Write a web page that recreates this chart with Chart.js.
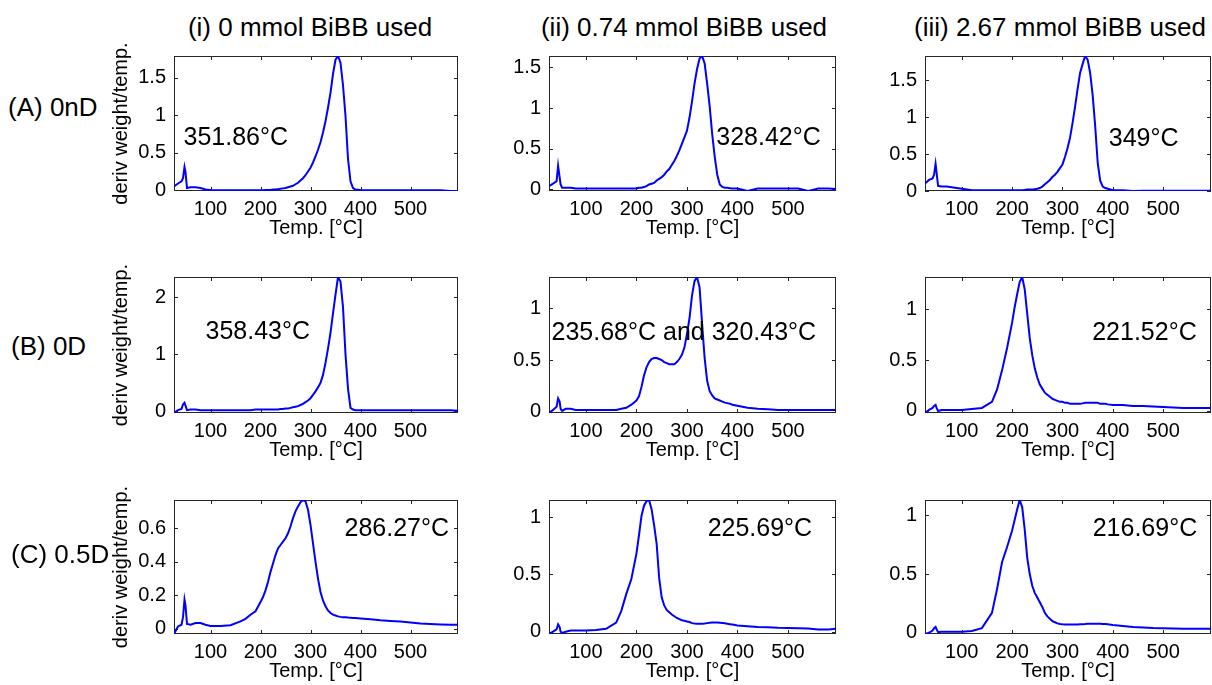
<!DOCTYPE html>
<html>
<head>
<meta charset="utf-8">
<title>DTG curves</title>
<script src="https://cdn.jsdelivr.net/npm/chart.js@4.4.1/dist/chart.umd.min.js"></script>
<style>
  body { margin: 0; background: #fff; }
  #fig { position: relative; width: 1212px; height: 685px; overflow: hidden;
         font-family: "Liberation Sans", Arial, sans-serif; color: #000; }
  #fig canvas { position: absolute; }
  .colTitle { position: absolute; font-size: 26px; white-space: nowrap; transform: translate(-50%, -50%); }
  .rowLabel { position: absolute; font-size: 26px; white-space: nowrap; transform: translateY(-50%); }
</style>
</head>
<body>
<div id="fig"></div>
<script>
// temperature grid (°C) shared by all runs
const temps = [27, 35, 42, 45, 48, 50, 53, 60, 70, 80, 90, 100, 120, 140, 160, 170, 180, 190,
  200, 205, 210, 215, 220, 225, 230, 235, 240, 245,
  250, 255, 260, 265, 270, 275, 280, 285, 290, 295,
  300, 305, 310, 315, 320, 325, 330, 335, 340, 345,
  350, 355, 360, 365, 370, 375, 380, 385, 390,
  400, 420, 440, 460, 480, 500, 520, 540, 560, 580, 595];

// deriv weight/temp. for each sample, row (A) 0nD
const curveA1 = [0.05, 0.09, 0.12, 0.16, 0.31, 0.24, 0.03, 0.04, 0.04, 0.03, 0.01, 0.005, 0, 0, 0, 0, 0, 0,
  0, 0, 0.005, 0.005, 0.005, 0.01, 0.01, 0.015, 0.02, 0.025,
  0.03, 0.04, 0.05, 0.06, 0.08, 0.1, 0.13, 0.16, 0.2, 0.25,
  0.3, 0.37, 0.45, 0.54, 0.64, 0.77, 0.92, 1.1, 1.3, 1.55,
  1.74, 1.79, 1.7, 1.4, 0.99, 0.42, 0.12, 0.03, 0.01,
  0.005, 0, 0, 0, 0, 0, 0, 0, 0, -0.01, -0.01];
const curveA2 = [0.04, 0.07, 0.1, 0.29, 0.15, 0.06, 0.02, 0.02, 0.02, 0.01, 0.01, 0.01, 0.01, 0.01, 0.01, 0.01, 0.01, 0.01,
  0.01, 0.02, 0.02, 0.03, 0.04, 0.06, 0.07, 0.08, 0.11, 0.13,
  0.15, 0.18, 0.22, 0.25, 0.3, 0.35, 0.41, 0.48, 0.56, 0.64,
  0.72, 0.88, 1.08, 1.3, 1.48, 1.61, 1.64, 1.55, 1.3, 1.02,
  0.68, 0.4, 0.18, 0.06, 0.03, 0.02, 0.02, 0.015, 0.01,
  0.01, -0.02, 0.01, 0.01, 0.01, 0.01, 0.01, -0.02, 0.01, 0.01, 0.005];
const curveA3 = [0.1, 0.15, 0.17, 0.22, 0.37, 0.25, 0.07, 0.06, 0.06, 0.05, 0.04, 0.03, 0.01, 0.01, 0.01, 0.01, 0.01, 0.01,
  0.01, 0.01, 0.01, 0.01, 0.01, 0.015, 0.02, 0.02, 0.02, 0.025,
  0.03, 0.04, 0.06, 0.09, 0.12, 0.15, 0.19, 0.22, 0.26, 0.31,
  0.36, 0.46, 0.58, 0.72, 0.92, 1.14, 1.38, 1.6, 1.72, 1.83,
  1.78, 1.6, 1.3, 0.88, 0.38, 0.14, 0.06, 0.04, 0.03,
  0.01, 0.01, 0, 0.005, 0.005, 0.005, 0.005, 0.005, 0.005, 0.005, 0.005];

// row (B) 0D
const curveB1 = [-0.03, 0.02, 0.04, 0.12, 0.15, 0.1, 0.02, 0.03, 0.03, 0.02, 0.02, 0.02, 0.02, 0.02, 0.02, 0.02, 0.02, 0.03,
  0.03, 0.03, 0.03, 0.03, 0.03, 0.03, 0.03, 0.03, 0.04, 0.04,
  0.05, 0.05, 0.06, 0.07, 0.08, 0.09, 0.11, 0.13, 0.16, 0.19,
  0.23, 0.29, 0.35, 0.42, 0.5, 0.64, 0.85, 1.1, 1.38, 1.72,
  2.05, 2.36, 2.28, 1.83, 1.0, 0.4, 0.06, 0.03, 0.02,
  0.02, 0.02, 0.02, 0.02, 0.02, 0.02, 0.02, 0.02, 0.02, 0.02, 0.01];
const curveB2 = [-0.01, 0.02, 0.05, 0.13, 0.1, 0.03, 0.01, 0.03, 0.03, 0.02, 0.02, 0.02, 0.02, 0.02, 0.02, 0.03, 0.04, 0.07,
  0.11, 0.15, 0.24, 0.35, 0.43, 0.48, 0.51, 0.52, 0.52, 0.51,
  0.5, 0.48, 0.47, 0.46, 0.46, 0.46, 0.48, 0.51, 0.55, 0.62,
  0.75, 0.9, 1.12, 1.26, 1.3, 1.2, 0.85, 0.52, 0.3, 0.2,
  0.16, 0.13, 0.12, 0.11, 0.1, 0.09, 0.085, 0.08, 0.07,
  0.06, 0.04, 0.03, 0.025, 0.02, 0.02, 0.02, 0.02, 0.02, 0.02, 0.02];
const curveB3 = [-0.02, 0.01, 0.03, 0.05, 0.06, 0.03, 0, 0.01, 0.01, 0.01, 0.01, 0.01, 0.02, 0.03, 0.09, 0.21, 0.4, 0.62,
  0.87, 1.02, 1.15, 1.27, 1.32, 1.2, 0.96, 0.72, 0.55, 0.42,
  0.33, 0.26, 0.22, 0.18, 0.16, 0.14, 0.12, 0.11, 0.1, 0.09,
  0.09, 0.08, 0.08, 0.07, 0.07, 0.07, 0.07, 0.07, 0.075, 0.08,
  0.08, 0.08, 0.08, 0.08, 0.08, 0.07, 0.07, 0.07, 0.065,
  0.06, 0.06, 0.05, 0.05, 0.045, 0.04, 0.035, 0.03, 0.03, 0.03, 0.03];

// row (C) 0.5D
const curveC1 = [-0.03, 0.015, 0.025, 0.07, 0.175, 0.14, 0.03, 0.025, 0.035, 0.035, 0.025, 0.018, 0.018, 0.022, 0.045, 0.06, 0.085, 0.105,
  0.16, 0.19, 0.23, 0.28, 0.34, 0.39, 0.44, 0.48, 0.5, 0.52,
  0.54, 0.57, 0.61, 0.66, 0.7, 0.73, 0.755, 0.768, 0.76, 0.71,
  0.62, 0.51, 0.4, 0.3, 0.22, 0.17, 0.135, 0.11, 0.095, 0.085,
  0.08, 0.075, 0.072, 0.07, 0.07, 0.068, 0.067, 0.066, 0.065,
  0.063, 0.058, 0.052, 0.048, 0.044, 0.038, 0.033, 0.03, 0.027, 0.025, 0.025];
const curveC2 = [-0.02, 0, 0.02, 0.065, 0.04, 0, -0.01, 0, 0.01, 0.01, 0.01, 0.01, 0.015, 0.025, 0.08, 0.18, 0.33, 0.46,
  0.68, 0.84, 1.01, 1.1, 1.14, 1.15, 1.07, 0.93, 0.77, 0.47,
  0.3, 0.23, 0.19, 0.17, 0.15, 0.135, 0.12, 0.11, 0.1, 0.095,
  0.09, 0.085, 0.075, 0.072, 0.07, 0.07, 0.07, 0.072, 0.075, 0.078,
  0.08, 0.08, 0.08, 0.078, 0.076, 0.073, 0.07, 0.066, 0.062,
  0.055, 0.048, 0.042, 0.04, 0.035, 0.032, 0.03, 0.028, 0.02, 0.02, 0.025];
const curveC3 = [-0.01, 0, 0.02, 0.04, 0.05, 0.03, 0.005, 0.01, 0.01, 0.01, 0.01, 0.01, 0.015, 0.04, 0.17, 0.37, 0.6, 0.73,
  0.87, 0.96, 1.05, 1.13, 1.07, 0.88, 0.64, 0.5, 0.4, 0.34,
  0.3, 0.26, 0.22, 0.17, 0.14, 0.12, 0.1, 0.09, 0.08, 0.075,
  0.072, 0.07, 0.07, 0.07, 0.07, 0.07, 0.07, 0.072, 0.074, 0.075,
  0.077, 0.078, 0.078, 0.078, 0.078, 0.077, 0.076, 0.075, 0.072,
  0.066, 0.058, 0.05, 0.045, 0.04, 0.038, 0.036, 0.035, 0.034, 0.034, 0.034];

const curves = [[curveA1, curveA2, curveA3], [curveB1, curveB2, curveB3], [curveC1, curveC2, curveC3]];

const columnTitles = ["(i) 0 mmol BiBB used", "(ii) 0.74 mmol BiBB used", "(iii) 2.67 mmol BiBB used"];
const rowLabels = ["(A) 0nD", "(B) 0D", "(C) 0.5D"];
const peakLabels = [
  ["351.86°C", "328.42°C", "349°C"],
  ["358.43°C", "235.68°C and 320.43°C", "221.52°C"],
  ["286.27°C", "225.69°C", "216.69°C"]
];

const xTicks = [100, 200, 300, 400, 500];
const yTicks = [
  [[0, 0.5, 1, 1.5], [0, 0.5, 1, 1.5], [0, 0.5, 1, 1.5]],
  [[0, 1, 2], [0, 0.5, 1], [0, 0.5, 1]],
  [[0, 0.2, 0.4, 0.6], [0, 0.5, 1], [0, 0.5, 1]]
];

// page layout (px)
const colLeft = [174, 549, 925], colWidth = [284, 287, 286];
const rowTop = [46, 267, 490], rowHeight = [145, 146, 144];
const padL = 70, padT = 10, padR = 10, padB = 52;
const titleX = [310, 684, 1060], titleY = 27;
const rowLabelX = [8, 11, 11], rowLabelY = [107, 346, 554];
// anchor of each peak label, in the panel's own axis units
const labelAt = [
  [[46, 0.69], [358, 0.63], [392, 0.71]],
  [[90, 1.39], [32, 0.76], [359, 0.77]],
  [[368, 0.594], [341, 0.9], [360, 0.885]]
];

const FONT = '"Liberation Sans", Arial, sans-serif';
Chart.defaults.font.family = FONT;
Chart.defaults.color = '#000';

// MATLAB-style frame: full box, inward ticks on all four sides, peak text
const boxPlugin = {
  id: 'matlabBox',
  beforeDatasetsDraw(chart) {
    const { ctx, chartArea: a, scales: { x, y } } = chart;
    ctx.save();
    ctx.strokeStyle = '#262626';
    ctx.lineWidth = 1;
    ctx.strokeRect(a.left + 0.5, a.top + 0.5, a.right - a.left - 1, a.bottom - a.top - 1);
    ctx.beginPath();
    x.ticks.forEach(t => {
      const px = Math.round(x.getPixelForValue(t.value)) + 0.5;
      ctx.moveTo(px, a.bottom); ctx.lineTo(px, a.bottom - 4);
      ctx.moveTo(px, a.top); ctx.lineTo(px, a.top + 4);
    });
    y.ticks.forEach(t => {
      const py = Math.round(y.getPixelForValue(t.value)) + 0.5;
      ctx.moveTo(a.left, py); ctx.lineTo(a.left + 4, py);
      ctx.moveTo(a.right, py); ctx.lineTo(a.right - 4, py);
    });
    ctx.stroke();
    ctx.restore();
  },
  afterDatasetsDraw(chart, args, opts) {
    const { ctx, scales: { x, y } } = chart;
    ctx.save();
    ctx.fillStyle = '#000';
    ctx.font = '25px ' + FONT;
    ctx.textBaseline = 'middle';
    ctx.textAlign = 'left';
    ctx.fillText(opts.text, x.getPixelForValue(opts.at[0]), y.getPixelForValue(opts.at[1]));
    ctx.restore();
  }
};

const fig = document.getElementById('fig');

columnTitles.forEach((t, c) => {
  const d = document.createElement('div');
  d.className = 'colTitle';
  d.textContent = t;
  d.style.left = titleX[c] + 'px';
  d.style.top = titleY + 'px';
  fig.appendChild(d);
});

for (let r = 0; r < 3; r++) {
  for (let c = 0; c < 3; c++) {
    const vals = curves[r][c];
    const cv = document.createElement('canvas');
    const w = colWidth[c] + padL + padR;
    const h = rowHeight[r] + padT + padB;
    cv.width = w; cv.height = h;
    cv.style.left = (colLeft[c] - padL) + 'px';
    cv.style.top = (rowTop[r] - padT) + 'px';
    cv.style.width = w + 'px'; cv.style.height = h + 'px';
    fig.appendChild(cv);

    new Chart(cv, {
      type: 'line',
      data: {
        datasets: [{
          data: temps.map((t, k) => ({ x: t, y: vals[k] })),
          borderColor: '#0000ff',
          borderWidth: 2,
          pointRadius: 0,
          tension: 0,
          fill: false
        }]
      },
      options: {
        responsive: false,
        animation: false,
        devicePixelRatio: 1,
        events: [],
        layout: { padding: { left: 0, top: padT, right: padR, bottom: 0 } },
        plugins: {
          legend: { display: false },
          tooltip: { enabled: false },
          matlabBox: { text: peakLabels[r][c], at: labelAt[r][c] }
        },
        scales: {
          x: {
            type: 'linear',
            min: Math.min(...temps),
            max: Math.max(...temps),
            afterFit: s => { s.height = padB; },
            afterBuildTicks: s => { s.ticks = xTicks.map(v => ({ value: v })); },
            grid: { display: false, drawTicks: false },
            border: { display: false },
            ticks: { font: { size: 20 }, padding: 6, maxRotation: 0, autoSkip: false, callback: v => String(v) },
            title: { display: true, text: 'Temp. [°C]', font: { size: 20 }, padding: { top: 0, bottom: 3 } }
          },
          y: {
            type: 'linear',
            min: Math.min(...vals),
            max: Math.max(...vals),
            afterFit: s => { s.width = padL; },
            afterBuildTicks: s => { s.ticks = yTicks[r][c].map(v => ({ value: v })); },
            grid: { display: false, drawTicks: false },
            border: { display: false },
            ticks: { font: { size: 20 }, padding: 8, autoSkip: false, callback: v => String(v) },
            title: { display: c === 0, text: 'deriv weight/temp.', font: { size: 20 }, padding: { top: 5, bottom: 0 } }
          }
        }
      },
      plugins: [boxPlugin]
    });
  }
}

rowLabels.forEach((t, r) => {
  const d = document.createElement('div');
  d.className = 'rowLabel';
  d.textContent = t;
  d.style.left = rowLabelX[r] + 'px';
  d.style.top = rowLabelY[r] + 'px';
  fig.appendChild(d);
});
</script>
</body>
</html>
